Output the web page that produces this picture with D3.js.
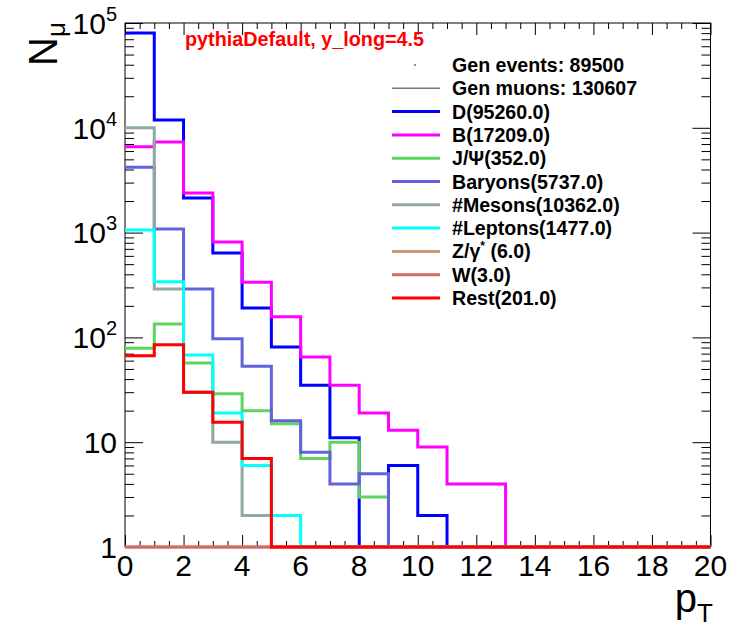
<!DOCTYPE html>
<html><head><meta charset="utf-8">
<script src="https://cdn.jsdelivr.net/npm/d3@7"></script>
<style>body{margin:0;background:#fff} svg{display:block} text{font-family:"Liberation Sans",Arial,Helvetica,sans-serif}</style>
</head><body>
<script>
// ---- data (bin contents, pT bins of width 1 GeV from 0 to 20) ----
const binLow = [0,1,2,3,4,5,6,7,8,9,10,11,12,13,14,15,16,17,18,19];
const D       = [80300,11900,2140,640,191,81,35,11,0,6,2,0,0,0,0,0,0,0,0,0];
const B       = [6600,7300,2390,813,336,157,65,35,19,13,9,4,4,0,0,0,0,0,0,0];
const JPsi    = [79,134,57,29,20,15,7,10,3,0,0,0,0,0,0,0,0,0,0,0];
const Baryons = [4200,1080,290,97,53,16,8,4,5,0,0,0,0,0,0,0,0,0,0,0];
const Mesons  = [10030,290,30,10,2,0,0,0,0,0,0,0,0,0,0,0,0,0,0,0];
const Leptons = [1060,340,68,19,6,2,0,0,0,0,0,0,0,0,0,0,0,0,0,0];
const Zgamma  = [1,1,1,1,1,1,0,0,0,0,0,0,0,0,0,0,0,0,0,0];
const Wboson  = [1,1,1,0,0,0,0,0,0,0,0,0,0,0,0,0,0,0,0,0];
const Rest    = [67,85,30,15.5,7,0,0,0,0,0,0,0,0,0,0,0,0,0,0,0];

const seriesNames  = ["D(95260.0)","B(17209.0)","J/\u03A8(352.0)","Baryons(5737.0)","#Mesons(10362.0)","#Leptons(1477.0)","Z/\u03B3*(6.0)","W(3.0)","Rest(201.0)"];
const seriesValues = [D,B,JPsi,Baryons,Mesons,Leptons,Zgamma,Wboson,Rest];
const seriesColors = ["#0000ff","#ff00ff","#5ed35e","#6262dc","#8fa9a1","#00ffff","#c99a80","#d26a6a","#ff0000"];

const xMajorTicks = [0,2,4,6,8,10,12,14,16,18,20];
const yMajorTicks = [1,10,100,1000,10000,100000];
const yTickLabels = [["1",""],["10",""],["10","2"],["10","3"],["10","4"],["10","5"]];
const titleText = "pythiaDefault, y_long=4.5";
const headerLines = ["Gen events: 89500","Gen muons: 130607"];

// ---- layout ----
const W = 732, H = 629;
const L = 125, R = 710.5, T = 23, Bt = 547;
const svg = d3.select("body").append("svg").attr("width",W).attr("height",H);

const x = d3.scaleLinear().domain([0,20]).range([L,R]);
const y = d3.scaleLog().domain([1,1e5]).range([Bt,T]);

const xMinor = d3.range(0,20.001,0.5).filter(v=>Math.abs(v%2)>1e-9);
const yMinor = [];
[1,10,100,1000,10000].forEach(d=>{for(let k=2;k<=9;k++) yMinor.push(d*k);});

// frame
svg.append("rect").attr("x",L).attr("y",T).attr("width",R-L).attr("height",Bt-T)
  .attr("fill","none").attr("stroke","#000").attr("stroke-width",1);

function styleAxis(g){ g.select(".domain").remove(); g.selectAll("line").attr("stroke","#000"); }
// bottom
svg.append("g").attr("transform",`translate(0,${Bt})`).call(d3.axisBottom(x).tickValues(xMajorTicks).tickSize(-12).tickFormat("")).call(styleAxis);
svg.append("g").attr("transform",`translate(0,${Bt})`).call(d3.axisBottom(x).tickValues(xMinor).tickSize(-6).tickFormat("")).call(styleAxis);
// top
svg.append("g").attr("transform",`translate(0,${T})`).call(d3.axisTop(x).tickValues(xMajorTicks).tickSize(-12).tickFormat("")).call(styleAxis);
svg.append("g").attr("transform",`translate(0,${T})`).call(d3.axisTop(x).tickValues(xMinor).tickSize(-6).tickFormat("")).call(styleAxis);
// left
svg.append("g").attr("transform",`translate(${L},0)`).call(d3.axisLeft(y).tickValues(yMajorTicks).tickSize(-18).tickFormat("")).call(styleAxis);
svg.append("g").attr("transform",`translate(${L},0)`).call(d3.axisLeft(y).tickValues(yMinor).tickSize(-9).tickFormat("")).call(styleAxis);
// right
svg.append("g").attr("transform",`translate(${R},0)`).call(d3.axisRight(y).tickValues(yMajorTicks).tickSize(-18).tickFormat("")).call(styleAxis);
svg.append("g").attr("transform",`translate(${R},0)`).call(d3.axisRight(y).tickValues(yMinor).tickSize(-9).tickFormat("")).call(styleAxis);

// histograms (drawn over the frame)
const yv = v => y(Math.max(v,1));
seriesValues.forEach((vals,i)=>{
  const pts = [];
  vals.forEach((v,j)=>{ pts.push([x(binLow[j]), yv(v)]); pts.push([x(binLow[j]+1), yv(v)]); });
  pts.push([x(20), Bt]);
  svg.append("path").attr("d", d3.line()(pts)).attr("fill","none")
    .attr("stroke", seriesColors[i]).attr("stroke-width",3).attr("stroke-linejoin","miter");
});

// x tick labels
const fsTick = 30;
svg.append("g").selectAll("text").data(xMajorTicks).join("text")
  .attr("x",d=>x(d)).attr("y",Bt+8+0.716*fsTick).attr("text-anchor","middle")
  .attr("font-size",fsTick).attr("fill","#000").text(d=>d);
// y tick labels
const yl = svg.append("g").selectAll("text").data(yMajorTicks).join("text")
  .attr("x",L-8).attr("y",d=>y(d)+0.36*fsTick).attr("text-anchor","end")
  .attr("font-size",fsTick).attr("fill","#000");
yl.each(function(d,i){
  const t = d3.select(this);
  t.append("tspan").text(yTickLabels[i][0]);
  if(yTickLabels[i][1]) t.append("tspan").attr("dy",-13).attr("font-size",20).text(yTickLabels[i][1]);
});

// axis titles
const yt = svg.append("text").attr("transform","translate(57,22) rotate(-90)").attr("text-anchor","end")
  .attr("font-size",40).attr("fill","#000");
yt.append("tspan").text("N");
yt.append("tspan").attr("dy",8).attr("font-size",26).text("\u03BC");
const xt = svg.append("text").attr("x",713).attr("y",612).attr("text-anchor","end")
  .attr("font-size",40).attr("fill","#000");
xt.append("tspan").text("p");
xt.append("tspan").attr("dy",10).attr("font-size",26).text("T");

// title
svg.append("text").attr("x",185).attr("y",46).attr("font-size",19.8).attr("font-weight","bold")
  .attr("fill","#ff0000").text(titleText);

// legend
const lgX0 = 392, lgX1 = 440, lgTx = 452, lgY0 = 65, lgDy = 23.3, lgFs = 19.6;
const rowY = i => lgY0 + i*lgDy;
svg.append("circle").attr("cx",415).attr("cy",rowY(0)).attr("r",0.8).attr("fill","#000");
svg.append("line").attr("x1",lgX0).attr("x2",lgX1).attr("y1",rowY(1)).attr("y2",rowY(1)).attr("stroke","#777").attr("stroke-width",1.5);
headerLines.forEach((s,i)=>{
  svg.append("text").attr("x",lgTx).attr("y",rowY(i)+0.36*lgFs).attr("font-size",lgFs).attr("font-weight","bold").attr("fill","#000").text(s);
});
seriesNames.forEach((s,i)=>{
  const r = rowY(i+2);
  svg.append("line").attr("x1",lgX0).attr("x2",lgX1).attr("y1",r).attr("y2",r).attr("stroke",seriesColors[i]).attr("stroke-width",3);
  const t = svg.append("text").attr("x",lgTx).attr("y",r+0.36*lgFs).attr("font-size",lgFs).attr("font-weight","bold").attr("fill","#000");
  if(s.indexOf("*")>=0){
    const parts = s.split("*");
    t.append("tspan").text(parts[0]);
    t.append("tspan").attr("dy",-8).attr("font-size",12).text("*");
    t.append("tspan").attr("dy",8).text(" "+parts[1]);
  } else t.text(s);
});
</script>
</body></html>
